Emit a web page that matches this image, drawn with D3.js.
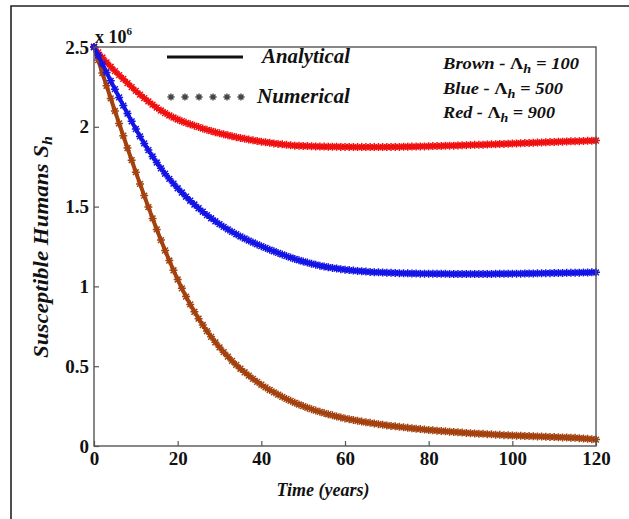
<!DOCTYPE html>
<html><head><meta charset="utf-8">
<script src="https://cdn.jsdelivr.net/npm/d3@7"></script>
<style>
html,body{margin:0;padding:0;background:#fff;}
svg{display:block;}
text{font-family:"Liberation Serif","Times New Roman",Times,serif;font-weight:bold;fill:#111;}
</style></head>
<body>
<script>
// ---- data (susceptible humans, x10^6) ----
const timeYears = d3.range(0, 121); // 0..120 yearly steps
const brownValues = [2.500,2.418,2.337,2.257,2.178,2.099,2.021,1.944,1.867,1.791,1.716,1.642,1.569,1.497,1.426,1.357,1.290,1.225,1.162,1.101,
1.043,0.988,0.936,0.887,0.841,0.798,0.758,0.720,0.684,0.650,0.618,0.588,0.560,0.533,0.508,0.484,0.462,0.441,0.421,0.402,
0.384,0.367,0.351,0.336,0.322,0.308,0.295,0.283,0.271,0.260,0.250,0.240,0.231,0.222,0.214,0.206,0.199,0.192,0.185,0.179,
0.173,0.168,0.163,0.158,0.153,0.149,0.145,0.141,0.137,0.133,0.129,0.126,0.123,0.120,0.117,0.114,0.111,0.108,0.106,0.103,
0.100,0.098,0.096,0.094,0.092,0.090,0.088,0.086,0.084,0.082,0.080,0.079,0.077,0.076,0.074,0.073,0.071,0.070,0.068,0.067,
0.066,0.065,0.064,0.063,0.062,0.061,0.060,0.059,0.058,0.057,0.056,0.055,0.054,0.053,0.052,0.051,0.049,0.047,0.045,0.043,0.040];
const blueValues = [2.500,2.447,2.394,2.341,2.288,2.236,2.184,2.133,2.083,2.034,1.986,1.940,1.896,1.854,1.814,1.776,1.740,1.706,1.674,1.644,
1.615,1.588,1.562,1.537,1.513,1.490,1.468,1.447,1.427,1.408,1.390,1.373,1.357,1.342,1.327,1.313,1.300,1.287,1.275,1.263,
1.252,1.241,1.230,1.220,1.210,1.200,1.190,1.181,1.172,1.164,1.156,1.149,1.142,1.136,1.130,1.125,1.120,1.116,1.112,1.108,
1.105,1.102,1.099,1.097,1.095,1.093,1.091,1.089,1.088,1.087,1.086,1.085,1.084,1.083,1.082,1.082,1.081,1.081,1.080,1.080,
1.080,1.079,1.079,1.079,1.079,1.078,1.078,1.078,1.078,1.078,1.078,1.078,1.078,1.078,1.078,1.078,1.079,1.079,1.079,1.079,
1.080,1.080,1.080,1.081,1.081,1.081,1.082,1.082,1.083,1.083,1.084,1.084,1.084,1.085,1.085,1.086,1.086,1.087,1.087,1.088,1.088];
const redValues = [2.500,2.466,2.434,2.404,2.376,2.349,2.324,2.300,2.274,2.249,2.225,2.202,2.180,2.159,2.139,2.120,2.102,2.086,2.071,2.058,
2.046,2.035,2.025,2.016,2.007,1.998,1.989,1.981,1.974,1.966,1.959,1.953,1.947,1.941,1.935,1.930,1.925,1.920,1.915,1.911,
1.907,1.903,1.900,1.896,1.893,1.890,1.887,1.884,1.882,1.881,1.880,1.879,1.878,1.877,1.876,1.876,1.875,1.875,1.875,1.874,
1.874,1.874,1.873,1.873,1.873,1.873,1.873,1.873,1.873,1.873,1.873,1.874,1.874,1.874,1.875,1.875,1.876,1.876,1.877,1.877,
1.878,1.879,1.879,1.880,1.881,1.882,1.882,1.883,1.884,1.885,1.886,1.887,1.887,1.888,1.889,1.890,1.891,1.892,1.893,1.894,
1.895,1.896,1.897,1.898,1.899,1.900,1.901,1.902,1.903,1.904,1.905,1.906,1.907,1.908,1.909,1.909,1.910,1.911,1.912,1.913,1.914];
const seriesNames = ["Brown", "Red", "Blue"];
const seriesColors = ["#a3420f", "#f01010", "#1414e6"];
const seriesData = [brownValues, redValues, blueValues];
const xTicks = [0, 20, 40, 60, 80, 100, 120];
const yTicks = [0, 0.5, 1, 1.5, 2, 2.5];
const legendLambda = [["Brown", "100"], ["Blue", "500"], ["Red", "900"]];

// ---- layout ----
const W = 629, H = 519;
const svg = d3.select("body").append("svg").attr("width", W).attr("height", H);
const x = d3.scaleLinear().domain([0, 120]).range([94, 596]);
const y = d3.scaleLinear().domain([0, 2.5]).range([446, 47]);

// outer frame (left + top visible)
svg.append("path").attr("d", `M11,${H}V6H${W}`).attr("fill", "none").attr("stroke", "#222").attr("stroke-width", 1.6);

// series
const line = d3.line().x((d, i) => x(timeYears[i])).y(d => y(d));
const star = "M-4,0H4M0,-4V4M-2.9,-2.9L2.9,2.9M-2.9,2.9L2.9,-2.9";
seriesData.forEach((vals, k) => {
  const g = svg.append("g");
  g.append("path").attr("d", line(vals)).attr("fill", "none")
    .attr("stroke", seriesColors[k]).attr("stroke-width", 4);
  g.selectAll("path.m").data(vals).join("path").attr("class", "m")
    .attr("d", star)
    .attr("transform", (d, i) => `translate(${x(timeYears[i])},${y(d)})`)
    .attr("fill", "none").attr("stroke", seriesColors[k]).attr("stroke-width", 1.5);
});

// axes
const ax = svg.append("g").attr("transform", "translate(0,446)")
  .call(d3.axisBottom(x).tickValues(xTicks).tickSize(-5).tickPadding(6).tickFormat(d3.format("d")));
const ay = svg.append("g").attr("transform", "translate(94,0)")
  .call(d3.axisLeft(y).tickValues(yTicks).tickSize(-5).tickPadding(5).tickFormat(d => d === 0 ? "0" : String(d)));
[ax, ay].forEach(a => {
  a.select(".domain").remove();
  a.selectAll(".tick line").attr("stroke", "#555").attr("stroke-width", 1.2);
  a.selectAll(".tick text").attr("fill", "#111").style("font-size", "19px").style("font-family", '"Liberation Serif",serif').style("font-weight", "bold");
});
// plot frame
svg.append("rect").attr("x", 94).attr("y", 47).attr("width", 502).attr("height", 399)
  .attr("fill", "none").attr("stroke", "#555").attr("stroke-width", 1.4);

// x 10^6
const ex = svg.append("text").attr("x", 95).attr("y", 43).style("font-size", "18px");
ex.append("tspan").text("x 10");
ex.append("tspan").attr("dy", -8).style("font-size", "11px").text("6");

// axis titles
svg.append("text").attr("x", 323).attr("y", 496).attr("text-anchor", "middle")
  .style("font-size", "18px").style("font-style", "italic").text("Time (years)");
const yt = svg.append("text").attr("transform", "translate(48,247) rotate(-90)")
  .attr("text-anchor", "middle").style("font-size", "20px").style("font-style", "italic")
  .attr("textLength", 222).attr("lengthAdjust", "spacingAndGlyphs");
yt.append("tspan").text("Susceptible Humans S");
yt.append("tspan").attr("dy", 4).style("font-size", "14px").text("h");

// legend: analytical / numerical
svg.append("line").attr("x1", 167).attr("x2", 243).attr("y1", 57).attr("y2", 57)
  .attr("stroke", "#111").attr("stroke-width", 3.2);
svg.append("text").attr("x", 262).attr("y", 63).style("font-size", "20px").style("font-style", "italic").attr("fill", "#222")
  .attr("textLength", 88).attr("lengthAdjust", "spacingAndGlyphs").text("Analytical");
d3.range(6).forEach(i => {
  svg.append("path").attr("d", "M-3.6,0H3.6M0,-3.6V3.6M-2.5,-2.5L2.5,2.5M-2.5,2.5L2.5,-2.5")
    .attr("transform", `translate(${171 + i * 14},97)`).attr("stroke", "#444").attr("stroke-width", 1.4).attr("fill", "none");
});
svg.append("text").attr("x", 257).attr("y", 103).style("font-size", "20px").style("font-style", "italic").attr("fill", "#222")
  .attr("textLength", 93).attr("lengthAdjust", "spacingAndGlyphs").text("Numerical");

// legend: lambda values
const lambdaLen = [136, 120, 112];
legendLambda.forEach((d, i) => {
  const t = svg.append("text").attr("x", 443).attr("y", 69 + i * 24.5)
    .style("font-size", "17px").style("font-style", "italic").attr("fill", "#222")
    .attr("textLength", lambdaLen[i]).attr("lengthAdjust", "spacingAndGlyphs");
  t.append("tspan").text(d[0] + " - ");
  t.append("tspan").style("font-style", "normal").text("\u039B");
  t.append("tspan").attr("dy", 4).style("font-size", "13px").text("h");
  t.append("tspan").attr("dy", -4).text(" = " + d[1]);
});
</script>
</body></html>
